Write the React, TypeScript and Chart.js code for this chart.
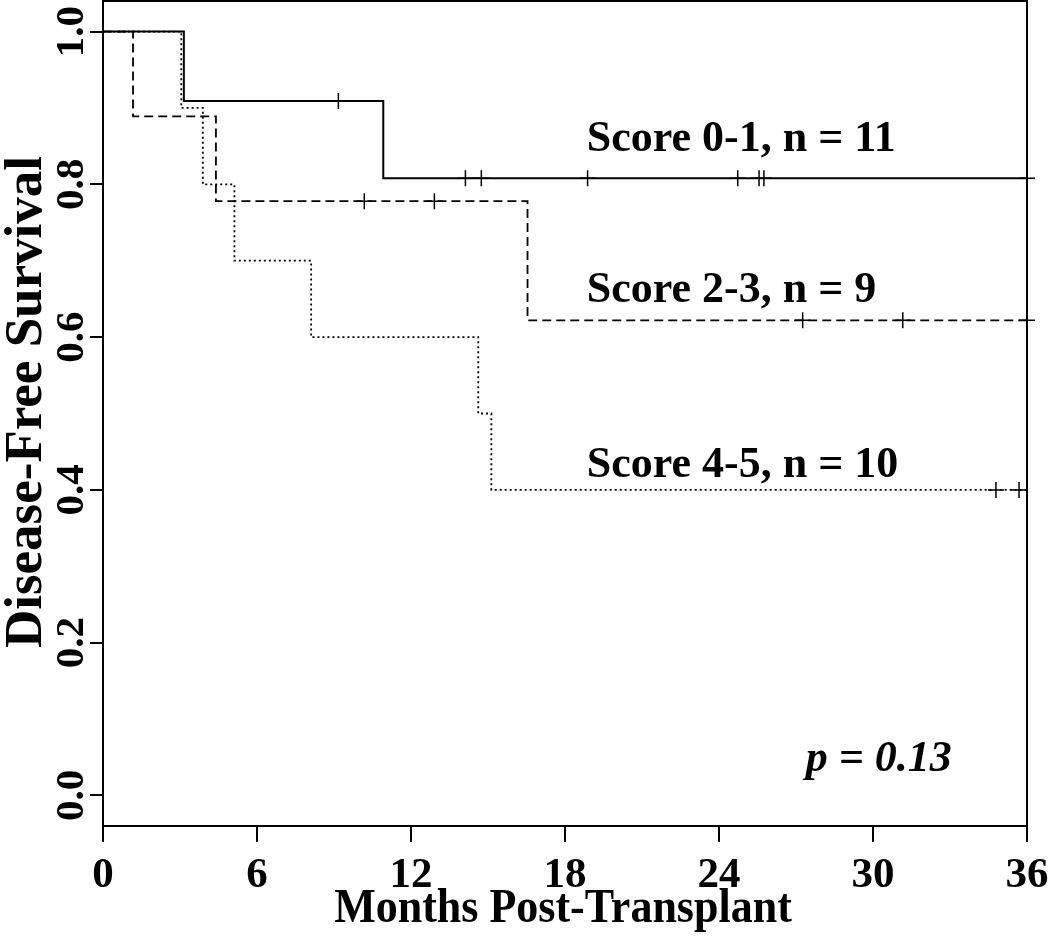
import React, { useEffect, useRef } from 'react';
import { Chart, registerables } from 'chart.js';

Chart.register(...registerables);

// ---- data ----
const X_TICKS = [0, 6, 12, 18, 24, 30, 36];
const X_TICK_LABELS = ['0', '6', '12', '18', '24', '30', '36'];
const Y_TICKS = [0, 0.2, 0.4, 0.6, 0.8, 1.0];
const Y_TICK_LABELS = ['0.0', '0.2', '0.4', '0.6', '0.8', '1.0'];

const X_TITLE = 'Months Post-Transplant';
const Y_TITLE = 'Disease-Free Survival';

// Score 0-1 (solid)
const G01_TIMES = [0, 3.15, 10.92, 36];
const G01_SURV = [1, 0.909, 0.808, 0.808];
const G01_CENSOR = [9.17, 14.12, 14.74, 18.88, 24.73, 25.56, 25.75, 36];

// Score 2-3 (dashed)
const G23_TIMES = [0, 1.17, 4.4, 16.54, 36];
const G23_SURV = [1, 0.889, 0.778, 0.622, 0.622];
const G23_CENSOR = [10.18, 12.91, 27.26, 31.16, 36];

// Score 4-5 (dotted)
const G45_TIMES = [0, 3.05, 3.89, 5.12, 8.11, 14.62, 15.13, 36];
const G45_SURV = [1, 0.9, 0.8, 0.7, 0.6, 0.5, 0.4, 0.2];
const G45_CENSOR = [34.79, 35.69];

const GROUP_LABELS = ['Score 0-1, n = 11', 'Score 2-3, n = 9', 'Score 4-5, n = 10'];
const P_LABEL = 'p = 0.13';

const FONT = '"Liberation Serif", "Times New Roman", serif';

function stepPoints(times: number[], surv: number[]) {
  return times.map((t, i) => ({ x: t, y: surv[i] }));
}
function censorPoints(times: number[], surv: number[], cens: number[]) {
  return cens.map((c) => {
    let idx = 0;
    for (let i = 0; i < times.length; i++) if (times[i] <= c) idx = i;
    return { x: c, y: surv[idx] };
  });
}

const framePlugin = {
  id: 'kmFrame',
  beforeDatasetsDraw(chart: any) {
    const { ctx, chartArea } = chart;
    ctx.save();
    ctx.strokeStyle = '#000';
    ctx.lineWidth = 2;
    ctx.setLineDash([]);
    ctx.strokeRect(chartArea.left, chartArea.top, chartArea.right - chartArea.left, chartArea.bottom - chartArea.top);
    ctx.restore();
  },
};

const textPlugin = {
  id: 'kmText',
  afterDraw(chart: any) {
    const { ctx, chartArea } = chart;
    const xs = chart.scales.x;
    const ys = chart.scales.y;
    ctx.save();
    ctx.fillStyle = '#000';
    // y tick labels (rotated)
    ctx.font = `bold 41px ${FONT}`;
    ctx.textAlign = 'center';
    ctx.textBaseline = 'alphabetic';
    ys.ticks.forEach((t: any, i: number) => {
      const y = ys.getPixelForValue(t.value);
      const idx = Y_TICKS.indexOf(t.value);
      ctx.save();
      ctx.translate(83, y);
      ctx.rotate(-Math.PI / 2);
      ctx.fillText(Y_TICK_LABELS[idx >= 0 ? idx : i], 0, 0);
      ctx.restore();
    });
    // x tick labels
    ctx.font = `bold 43px ${FONT}`;
    xs.ticks.forEach((t: any, i: number) => {
      const x = xs.getPixelForValue(t.value);
      const idx = X_TICKS.indexOf(t.value);
      ctx.fillText(X_TICK_LABELS[idx >= 0 ? idx : i], x, 887);
    });
    // axis titles
    ctx.font = `bold 44px ${FONT}`;
    ctx.save();
    ctx.translate((chartArea.left + chartArea.right) / 2 - 2, 922);
    ctx.scale(1, 1.08);
    ctx.fillText(X_TITLE, 0, 0);
    ctx.restore();
    ctx.font = `bold 53px ${FONT}`;
    ctx.save();
    ctx.translate(41, 402);
    ctx.rotate(-Math.PI / 2);
    ctx.fillText(Y_TITLE, 0, 0);
    ctx.restore();

    // group labels
    ctx.font = `bold 44px ${FONT}`;
    ctx.textAlign = 'left';
    const labelX = xs.getPixelForValue(18.85);
    ctx.fillText(GROUP_LABELS[0], labelX, ys.getPixelForValue(0.843));
    ctx.fillText(GROUP_LABELS[1], labelX, ys.getPixelForValue(0.6466));
    ctx.fillText(GROUP_LABELS[2], labelX, ys.getPixelForValue(0.4175));
    ctx.font = `italic bold 44px ${FONT}`;
    ctx.fillText(P_LABEL, xs.getPixelForValue(27.38), ys.getPixelForValue(0.0314));
    ctx.restore();
  },
};

export default function App() {
  const ref = useRef<HTMLCanvasElement | null>(null);
  useEffect(() => {
    document.body.style.margin = '0';
    const canvas = ref.current;
    if (!canvas) return;
    const lineBase = {
      type: 'line' as const,
      stepped: 'before' as const,
      pointRadius: 0,
      fill: false,
      borderColor: '#000',
      backgroundColor: '#000',
      tension: 0,
      clip: 4,
    };
    const censorBase = {
      type: 'line' as const,
      showLine: false,
      pointStyle: 'cross' as const,
      pointRadius: 8,
      pointBorderWidth: 1.5,
      borderColor: '#000',
      pointBorderColor: '#000',
      backgroundColor: '#000',
      clip: false,
    };
    const chart = new Chart(canvas, {
      type: 'line',
      data: {
        datasets: [
          { ...lineBase, label: GROUP_LABELS[0], data: stepPoints(G01_TIMES, G01_SURV), borderWidth: 2, borderDash: [] },
          { ...lineBase, label: GROUP_LABELS[1], data: stepPoints(G23_TIMES, G23_SURV), borderWidth: 1.8, borderDash: [9, 5] },
          { ...lineBase, label: GROUP_LABELS[2], data: stepPoints(G45_TIMES, G45_SURV), borderWidth: 1.8, borderDash: [2, 3] },
          { ...censorBase, label: 'c1', data: censorPoints(G01_TIMES, G01_SURV, G01_CENSOR) },
          { ...censorBase, label: 'c2', data: censorPoints(G23_TIMES, G23_SURV, G23_CENSOR) },
          { ...censorBase, label: 'c3', data: censorPoints(G45_TIMES, G45_SURV, G45_CENSOR) },
        ] as any,
      },
      options: {
        animation: false,
        responsive: false,
        maintainAspectRatio: false,
        layout: { autoPadding: false, padding: { top: 1, right: 23, left: 0, bottom: 0 } },
        plugins: { legend: { display: false }, tooltip: { enabled: false } },
        scales: {
          x: {
            type: 'linear',
            min: 0,
            max: 36,
            afterBuildTicks: (s: any) => {
              s.ticks = X_TICKS.map((v) => ({ value: v }));
            },
            afterFit: (s: any) => {
              s.height = 124;
            },
            ticks: { display: false },
            grid: { drawOnChartArea: false, drawTicks: true, tickLength: 16, color: '#000', lineWidth: 2 },
            border: { display: false },
          },
          y: {
            type: 'linear',
            min: -0.04,
            max: 1.04,
            afterBuildTicks: (s: any) => {
              s.ticks = Y_TICKS.map((v) => ({ value: v }));
            },
            afterFit: (s: any) => {
              s.width = 103;
            },
            ticks: { display: false },
            grid: { drawOnChartArea: false, drawTicks: true, tickLength: 13, color: '#000', lineWidth: 2 },
            border: { display: false },
          },
        },
      } as any,
      plugins: [framePlugin, textPlugin],
    });
    return () => chart.destroy();
  }, []);
  return <canvas ref={ref} width={1050} height={950} style={{ display: 'block' }} />;
}
